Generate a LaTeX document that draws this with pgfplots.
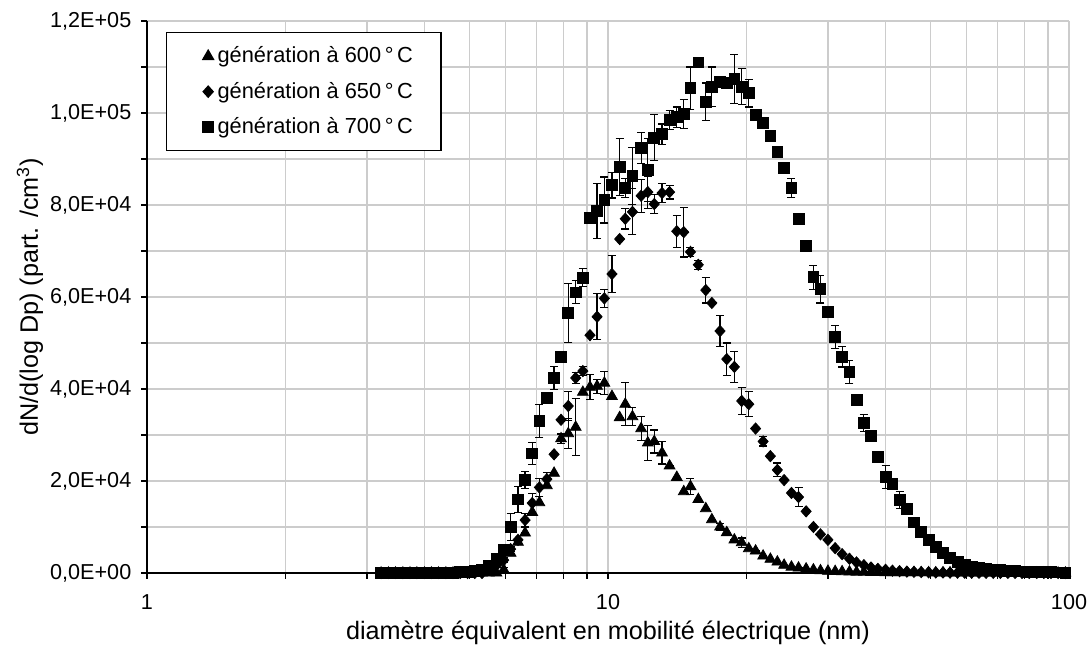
\documentclass[border=0pt]{standalone}
\usepackage{pgfplots}
\pgfplotsset{compat=1.18}
\usepackage{pgfplotstable}
\usepackage{fontspec}
\setmainfont{Liberation Sans}

\pgfplotstableread{
x t te d de s se
3.22 0 0 0 0 0 0
3.34 0 0 0 0 0 0
3.46 0 0 0 0 0 0
3.59 0 0 0 0 0 0
3.72 0 0 0 0 0 0
3.85 0 0 0 0 0 0
4.00 0 0 0 0 0 0
4.14 0 0 0 0 0 0
4.29 0 0 0 0 0 0
4.45 0 0 0 0 100 0
4.61 0 0 0 0 100 0
4.78 0 0 0 0 200 0
4.96 0 0 0 0 300 0
5.14 0 0 0 0 500 0
5.33 0 0 0 0 800 0
5.52 0 0 700 0 1500 0
5.73 0 0 1700 0 3000 500
5.94 700 500 2800 500 5000 800
6.15 4300 0 5200 600 10000 2900
6.38 6700 0 7200 0 16000 2800
6.61 8700 0 11500 1500 20200 1900
6.85 13200 0 15200 2000 26000 2400
7.10 15300 0 18600 2000 33000 3600
7.37 19000 0 20400 1500 38000 0
7.64 21700 0 25800 0 42400 2500
7.91 29200 1000 33300 0 47000 0
8.20 30300 3300 36300 3100 56500 6400
8.51 31700 6200 42400 1200 61000 2500
8.82 39300 0 43900 1000 64200 2000
9.14 40400 2700 51700 0 77200 0
9.47 40600 1500 55700 5000 78700 6000
9.82 41300 2500 59700 2000 81100 5000
10.2 38400 0 65000 4000 84300 2800
10.6 33800 0 72600 0 88300 6200
10.9 36700 4700 77000 2200 83700 2000
11.3 34000 2000 78500 5000 86300 6200
11.8 31400 2600 82000 3600 92400 3300
12.2 28300 3800 82800 3500 87600 6900
12.6 28600 2500 80200 2000 94600 5000
13.1 26100 2400 82600 2000 95400 2200
13.6 23300 0 82800 1500 98500 2100
14.1 20800 0 74300 3500 99100 2200
14.6 17700 0 74100 5400 99800 3100
15.1 18800 1800 69800 1000 105400 4600
15.7 16000 0 67000 1000 111000 0
16.3 14000 0 61500 2800 102400 4100
16.8 11600 0 58700 0 105700 4300
17.5 10000 800 52600 3300 106700 0
18.1 8800 0 46500 3500 106500 0
18.8 7200 0 44800 3400 107400 5300
19.5 6600 1000 37400 3000 105700 3900
20.2 5300 0 36700 2700 104300 3000
20.9 4800 0 31400 0 99600 1000
21.7 3700 0 28600 1000 97800 0
22.5 3000 0 25400 0 95000 0
23.3 2400 0 22400 1500 91500 0
24.1 1700 0 20200 0 88000 0
25.0 1300 0 17400 0 83700 2000
25.9 1100 0 16500 2000 77000 0
26.9 900 0 13400 0 71100 0
27.9 700 0 10000 0 64300 2600
28.9 500 0 8400 0 61700 3000
30.0 400 0 7200 0 56700 0
31.1 350 0 5400 0 51300 2500
32.2 300 0 4100 0 47000 2200
33.4 250 0 3100 0 43700 2500
34.6 200 0 2300 0 37600 0
35.9 200 0 1700 0 32600 1800
37.2 150 0 1200 0 29800 0
38.5 150 0 900 0 25300 0
40.0 100 0 700 0 20900 2500
41.4 100 0 500 0 19300 0
42.9 100 0 400 0 15900 1800
44.5 80 0 300 0 13900 0
46.1 80 0 250 0 11000 0
47.8 60 0 200 0 9000 0
49.6 60 0 150 0 7200 0
51.4 50 0 120 0 5700 0
53.3 50 0 100 0 4300 0
55.2 40 0 80 0 3300 0
57.3 40 0 70 0 2400 0
59.4 30 0 60 0 1700 0
61.5 30 0 50 0 1300 0
63.8 20 0 40 0 1100 0
66.1 20 0 30 0 900 0
68.5 20 0 30 0 700 0
71.0 10 0 20 0 600 0
73.7 10 0 20 0 500 0
76.4 10 0 10 0 400 0
79.1 0 0 10 0 350 0
82.0 0 0 10 0 300 0
85.1 0 0 0 0 250 0
88.2 0 0 0 0 200 0
91.4 0 0 0 0 200 0
94.7 0 0 0 0 150 0
98.2 0 0 0 0 100 0
}\data

\pgfplotsset{
  errstyle/.style={
    error bars/.cd, y dir=both, y explicit,
    error bar style={line width=0.6pt, black},
    error mark options={rotate=90, black, mark size=2pt, line width=0.6pt}
  },
  legimg/.style={legend image code/.code={\path (0pt,0pt) (10.5pt,0pt); \draw[##1] plot coordinates {(8.5pt,0pt)};}}
}

\begin{document}
\fontsize{11}{13}\selectfont
\begin{tikzpicture}
\path[use as bounding box] (-73.5pt,-36.5pt) rectangle (472pt,286.5pt);
\begin{axis}[
  at={(0pt,0pt)}, anchor=south west,
  scale only axis, width=461pt, height=276pt,
  xmode=log, log basis x=10, xmin=1, xmax=100, ymin=0, ymax=120000,
  xtick={1,10,100}, xticklabels={1,10,100},
  minor xtick={2,3,4,5,6,7,8,9,20,30,40,50,60,70,80,90},
  ytick={0,20000,40000,60000,80000,100000,120000},
  yticklabels={{0,0E+00},{2,0E+04},{4,0E+04},{6,0E+04},{8,0E+04},{1,0E+05},{1,2E+05}},
  minor ytick={10000,30000,50000,70000,90000,110000},
  scaled y ticks=false,
  grid=both,
  major grid style={gray!40, line width=0.6pt},
  minor grid style={gray!40, line width=0.6pt},
  axis lines*=left,
  axis line style={black, line width=0.6pt, -},
  tick align=outside,
  major tick length=3pt, minor tick length=3pt,
  tick style={black, line width=0.6pt},
  tick label style={font=\fontsize{10.8}{13}\selectfont},
  xticklabel style={yshift=-4pt},
  yticklabel style={xshift=-1pt},
  xlabel={diamètre équivalent en mobilité électrique (nm)},
  ylabel={dN/d(log Dp) (part. /cm\textsuperscript{3})},
  label style={font=\fontsize{12.6}{15}\selectfont},
  xlabel style={at={(axis description cs:0.5,-0.109)}, anchor=center},
  ylabel style={at={(axis description cs:-0.127,0.5)}, anchor=center},
  clip=false,
  legend style={at={(0.0206,0.98)}, anchor=north west, draw=black, line width=0.6pt,
    inner xsep=12pt, inner ysep=5pt, row sep=4pt, fill=white,
    font=\fontsize{10.9}{13}\selectfont},
  legend cell align=left,
]
\addplot[only marks, black, mark=triangle*, mark size=3.1pt, legimg, errstyle]
  table[x=x, y=t, y error=te]{\data};
\addlegendentry{génération à 600\,°\,C}
\addplot[only marks, black, mark=diamond*, mark size=2.8pt, mark options={xscale=1.2}, legimg, errstyle]
  table[x=x, y=d, y error=de]{\data};
\addlegendentry{génération à 650\,°\,C}
\addplot[only marks, black, mark=square*, mark size=2.7pt, legimg, errstyle]
  table[x=x, y=s, y error=se]{\data};
\addlegendentry{génération à 700\,°\,C}
\end{axis}
\end{tikzpicture}
\end{document}
